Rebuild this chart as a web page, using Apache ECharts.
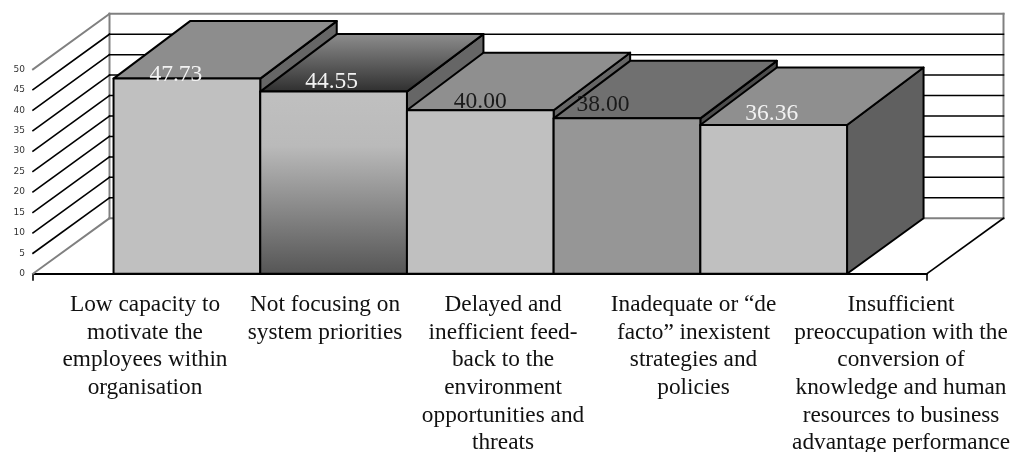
<!DOCTYPE html>
<html>
<head>
<meta charset="utf-8">
<style>html,body{margin:0;padding:0;background:#fff}#chart{width:1013px;height:452px}</style>
<script src="https://cdn.jsdelivr.net/npm/echarts@6/dist/echarts.min.js"></script>
</head>
<body>
<div id="chart"></div>
<script>
// Survey scores per weakness
var categories = [
  'Low capacity to\nmotivate the\nemployees within\norganisation',
  'Not focusing on\nsystem priorities',
  'Delayed and\ninefficient feed-\nback to the\nenvironment\nopportunities and\nthreats',
  'Inadequate or \u201cde\nfacto\u201d inexistent\nstrategies and\npolicies',
  'Insufficient\npreoccupation with the\nconversion of\nknowledge and human\nresources to business\nadvantage performance'
];
var scores = [47.73, 44.55, 40.00, 38.00, 36.36];
var yTicks = [0, 5, 10, 15, 20, 25, 30, 35, 40, 45, 50];
// Where each caption sits along the x axis, in bar slots
var captionSlots = [-0.2855, 0.9416, 2.155, 3.4536, 4.868];

// Oblique projection of the box: pixels from front plane to back plane
var DEPTH_X = 76.5, DEPTH_Y = 55.5, TOP_EXTRA = 2;

// Bar slots on the value axis: each bar spans i-0.5 .. i+0.5
var X_MIN = -1.049, X_MAX = 5.045, Y_MAX = 50;

var vgrad = function (stops) {
  return { type: 'linear', x: 0, y: 0, x2: 0, y2: 1,
    colorStops: stops.map(function (s) { return { offset: s[0], color: s[1] }; }) };
};

var barStyles = [
  { front: '#c0c0c0', top: '#8d8d8d', side: '#666666', label: '#f2f2f2', dx: -11, dy: -3.5 },
  { front: vgrad([[0, '#c0c0c0'], [0.3, '#bababa'], [1, '#555555']]),
    top: vgrad([[0, '#8e8e8e'], [1, '#2e2e2e']]), side: '#666666', label: '#f2f2f2', dx: -2, dy: -10 },
  { front: '#c0c0c0', top: '#8f8f8f', side: '#666666', label: '#1a1a1a', dx: 0, dy: -8.5 },
  { front: '#969696', top: '#707070', side: '#4d4d4d', label: '#1a1a1a', dx: -24, dy: -13.5 },
  { front: '#c0c0c0', top: '#8f8f8f', side: '#606060', label: '#f2f2f2', dx: -2, dy: -11 }
];

function line(x1, y1, x2, y2, color, width) {
  return { type: 'line', shape: { x1: x1, y1: y1, x2: x2, y2: y2 },
    style: { stroke: color, lineWidth: width, lineCap: 'square' } };
}

// Side wall, back wall and floor, one rung per y tick
function renderWalls(params, api) {
  var v = api.value(0);
  var l = api.coord([X_MIN, v]);
  var r = api.coord([X_MAX, v]);
  var edge = v === 0 || v === Y_MAX;
  var color = edge ? '#808080' : '#000000';
  var kids = [
    line(l[0], l[1], l[0] + DEPTH_X, l[1] - DEPTH_Y, color, edge ? 2 : 1.6),
    line(l[0] + DEPTH_X, l[1] - DEPTH_Y, r[0] + DEPTH_X, r[1] - DEPTH_Y, color, edge ? 2 : 1.5)
  ];
  if (v === 0) {
    var tl = api.coord([X_MIN, Y_MAX]);
    var tr = api.coord([X_MAX, Y_MAX]);
    kids.push(line(tl[0] + DEPTH_X, tl[1] - DEPTH_Y, l[0] + DEPTH_X, l[1] - DEPTH_Y, '#808080', 2));
    kids.push(line(tr[0] + DEPTH_X, tr[1] - DEPTH_Y, r[0] + DEPTH_X, r[1] - DEPTH_Y, '#808080', 2));
    kids.push(line(r[0], r[1], r[0] + DEPTH_X, r[1] - DEPTH_Y, '#000000', 1.6));
  }
  return { type: 'group', children: kids };
}

function poly(points, fill) {
  return { type: 'polygon', shape: { points: points },
    style: { fill: fill, stroke: '#000000', lineWidth: 2, lineJoin: 'round' } };
}

// Box with front, top and right faces; drawn left to right so later bars overlap
function renderBar(params, api) {
  var i = api.value(0), v = api.value(1), s = barStyles[i];
  var a = api.coord([i - 0.5, v]);
  var b = api.coord([i + 0.5, v]);
  var c = api.coord([i + 0.5, 0]);
  var d = api.coord([i - 0.5, 0]);
  var dyTop = DEPTH_Y + TOP_EXTRA;
  return { type: 'group', children: [
    poly([[b[0], b[1]], [b[0] + DEPTH_X, b[1] - dyTop], [c[0] + DEPTH_X, c[1] - DEPTH_Y], [c[0], c[1]]], s.side),
    poly([[a[0], a[1]], [a[0] + DEPTH_X, a[1] - dyTop], [b[0] + DEPTH_X, b[1] - dyTop], [b[0], b[1]]], s.top),
    poly([a, b, c, d], s.front),
    { type: 'text', z2: 50, x: (a[0] + b[0]) / 2 + s.dx, y: a[1] + s.dy,
      style: { text: v.toFixed(2), fill: s.label, align: 'center', verticalAlign: 'middle',
        fontFamily: 'Liberation Serif', fontSize: 23.5 } }
  ] };
}

var chart = echarts.init(document.getElementById('chart'), null, { renderer: 'canvas' });
chart.setOption({
  animation: false,
  backgroundColor: '#ffffff',
  grid: { left: 33, right: 86, top: 69.3, bottom: 178.3, containLabel: false, outerBoundsMode: 'none' },
  xAxis: { type: 'value', min: X_MIN, max: X_MAX, position: 'bottom', splitLine: { show: false },
    axisLine: { show: true, onZero: false, lineStyle: { color: '#000', width: 2 } },
    axisTick: { show: true, customValues: [X_MIN, X_MAX], length: 7, lineStyle: { color: '#000', width: 1.6 } },
    axisLabel: { customValues: captionSlots, margin: 17.5, align: 'center', verticalAlign: 'top',
      color: '#111', fontFamily: 'Liberation Serif', fontSize: 23.3, lineHeight: 27.6, hideOverlap: false,
      formatter: function (value) { return categories[captionSlots.indexOf(value)]; } } },
  yAxis: { type: 'value', min: 0, max: Y_MAX, interval: 5, splitLine: { show: false },
    axisLine: { show: true, lineStyle: { color: '#000', width: 2 } },
    axisTick: { show: true, length: 6, lineStyle: { color: '#000', width: 1.6 } },
    axisLabel: { margin: 8, color: '#333', fontFamily: 'DejaVu Sans', fontSize: 9 } },
  series: [
    { type: 'custom', name: 'walls', z: 1, silent: true, clip: false,
      data: yTicks.map(function (t) { return [t]; }),
      encode: { y: 0 }, renderItem: renderWalls },
    { type: 'custom', name: 'scores', z: 3, silent: true, clip: false,
      data: scores.map(function (v, i) { return [i, v]; }),
      encode: { x: 0, y: 1 }, renderItem: renderBar }
  ]
});
</script>
</body>
</html>
